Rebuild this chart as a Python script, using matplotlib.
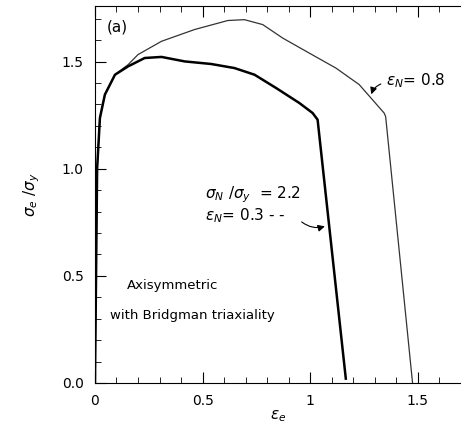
import numpy as np
import matplotlib
matplotlib.use("Agg")
import matplotlib.pyplot as plt
from matplotlib.ticker import MultipleLocator

# curve for eps_N = 0.8 (thin)
x_08 = [0.0, 0.01, 0.023, 0.046, 0.093, 0.154, 0.20, 0.309, 0.463, 0.617,
        0.694, 0.779, 0.872, 0.995, 1.119, 1.227, 1.289, 1.343, 1.35,
        1.475]
y_08 = [0.0, 1.0, 1.237, 1.346, 1.439, 1.486, 1.533, 1.595, 1.65, 1.692,
        1.696, 1.673, 1.61, 1.54, 1.47, 1.393, 1.322, 1.26, 1.244, 0.0]

# curve for eps_N = 0.3 (thick)
x_03 = [0.0, 0.01, 0.023, 0.046, 0.093, 0.154, 0.231, 0.309, 0.417, 0.54,
        0.648, 0.741, 0.841, 0.949, 1.011, 1.034, 1.165]
y_03 = [0.0, 1.0, 1.237, 1.346, 1.439, 1.478, 1.517, 1.522, 1.501, 1.489,
        1.47, 1.439, 1.377, 1.307, 1.26, 1.229, 0.02]

fig = plt.figure(figsize=(4.61, 4.25), dpi=100)
ax = fig.add_axes([0.206, 0.099, 0.794, 0.887])

ax.plot(x_08, y_08, color='#333333', lw=0.9)
ax.plot(x_03, y_03, color='black', lw=1.8)

ax.set_xlim(0, 1.7)
ax.set_ylim(0, 1.76)
ax.xaxis.set_minor_locator(MultipleLocator(0.1))
ax.yaxis.set_minor_locator(MultipleLocator(0.1))
ax.set_xticks([0, 0.5, 1, 1.5])
ax.set_xticklabels(['0', '0.5', '1', '1.5'])
ax.set_yticks([0, 0.5, 1.0, 1.5])
ax.set_yticklabels(['0.0', '0.5', '1.0', '1.5'])
ax.tick_params(which='both', direction='in', top=True, right=False,
               labelsize=10)
ax.tick_params(which='major', length=8, pad=8)
ax.tick_params(which='minor', length=4)
ax.spines['right'].set_visible(False)

ax.set_xlabel(r'$\epsilon_e$', fontsize=11, labelpad=0)
ax.set_ylabel(r'$\sigma_e\ /\sigma_y$', fontsize=11, labelpad=14)

ax.text(0.055, 1.64, '(a)', fontsize=11)
ax.text(1.35, 1.39, r'$\epsilon_N$= 0.8', fontsize=11)
ax.annotate('', xy=(1.28, 1.335), xytext=(1.34, 1.40),
            arrowprops=dict(arrowstyle='-|>', color='black', lw=0.8,
                            connectionstyle='arc3,rad=0.3'))
ax.text(0.51, 0.86, r'$\sigma_N\ /\sigma_y$  = 2.2', fontsize=11)
ax.text(0.51, 0.76, r'$\epsilon_N$= 0.3 - -', fontsize=11)
ax.annotate('', xy=(1.08, 0.735), xytext=(0.95, 0.76),
            arrowprops=dict(arrowstyle='-|>', color='black', lw=0.8,
                            connectionstyle='arc3,rad=0.3'))
ax.text(0.36, 0.44, 'Axisymmetric', fontsize=9.5, ha='center')
ax.text(0.07, 0.30, 'with Bridgman triaxiality', fontsize=9.5)

fig.savefig('out.png', dpi=100)
